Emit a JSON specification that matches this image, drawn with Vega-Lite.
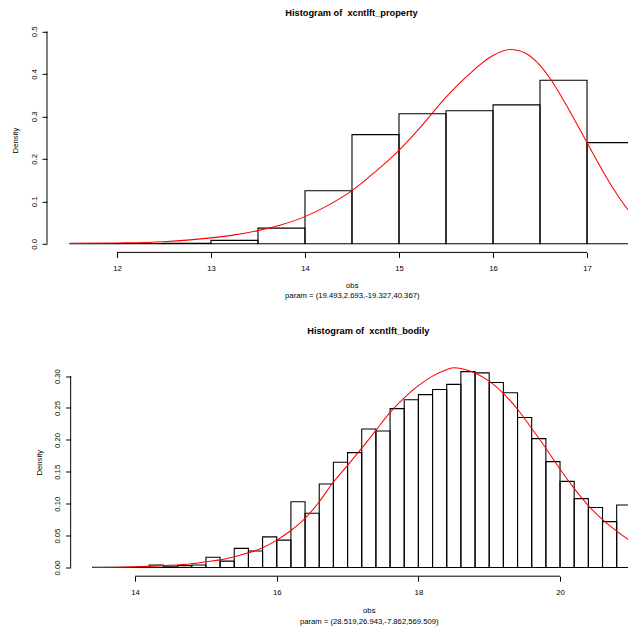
{
  "$schema": "https://vega.github.io/schema/vega-lite/v6.json",
  "background": "white",
  "padding": {"left": 11, "top": 7.8, "right": 0, "bottom": 0},
  "bounds": "flush",
  "spacing": 106.7,
  "config": {
    "view": {"stroke": null},
    "font": "Liberation Sans",
    "axis": {
      "grid": false,
      "domain": false,
      "tickColor": "#000",
      "tickSize": 5,
      "tickWidth": 1,
      "labelColor": "#000",
      "labelFont": "Liberation Sans",
      "labelFontSize": 7.7,
      "labelFlush": false,
      "labelOverlap": false,
      "labelSeparation": 0,
      "titleFont": "Liberation Sans",
      "titleFontSize": 7.7,
      "titleFontWeight": "normal",
      "titleColor": "#000"
    }
  },
  "datasets": {
    "property_bins": [
      {"obs": 11.5, "obs_end": 12.0, "density": 0.0008},
      {"obs": 12.0, "obs_end": 12.5, "density": 0.0008},
      {"obs": 12.5, "obs_end": 13.0, "density": 0.0015},
      {"obs": 13.0, "obs_end": 13.5, "density": 0.008},
      {"obs": 13.5, "obs_end": 14.0, "density": 0.037},
      {"obs": 14.0, "obs_end": 14.5, "density": 0.125},
      {"obs": 14.5, "obs_end": 15.0, "density": 0.257},
      {"obs": 15.0, "obs_end": 15.5, "density": 0.306},
      {"obs": 15.5, "obs_end": 16.0, "density": 0.313},
      {"obs": 16.0, "obs_end": 16.5, "density": 0.327},
      {"obs": 16.5, "obs_end": 17.0, "density": 0.385},
      {"obs": 17.0, "obs_end": 17.5, "density": 0.238}
    ],
    "property_curve": [
      {"obs": 11.5, "density": 0.001},
      {"obs": 12.0, "density": 0.002},
      {"obs": 12.5, "density": 0.005},
      {"obs": 13.0, "density": 0.014},
      {"obs": 13.25, "density": 0.021},
      {"obs": 13.5, "density": 0.031},
      {"obs": 13.75, "density": 0.045},
      {"obs": 14.0, "density": 0.064},
      {"obs": 14.25, "density": 0.091},
      {"obs": 14.5, "density": 0.125},
      {"obs": 14.75, "density": 0.170},
      {"obs": 15.0, "density": 0.220},
      {"obs": 15.25, "density": 0.280},
      {"obs": 15.5, "density": 0.345},
      {"obs": 15.75, "density": 0.400},
      {"obs": 16.0, "density": 0.443},
      {"obs": 16.18, "density": 0.457},
      {"obs": 16.35, "density": 0.448},
      {"obs": 16.5, "density": 0.420},
      {"obs": 16.62, "density": 0.385},
      {"obs": 16.75, "density": 0.338},
      {"obs": 17.0, "density": 0.238},
      {"obs": 17.25, "density": 0.140},
      {"obs": 17.44, "density": 0.079},
      {"obs": 17.5, "density": 0.064}
    ],
    "bodily_bins": [
      {"obs": 13.4, "obs_end": 13.6, "density": 0.0003},
      {"obs": 13.6, "obs_end": 13.8, "density": 0.0003},
      {"obs": 13.8, "obs_end": 14.0, "density": 0.0005},
      {"obs": 14.0, "obs_end": 14.2, "density": 0.0008},
      {"obs": 14.2, "obs_end": 14.4, "density": 0.004},
      {"obs": 14.4, "obs_end": 14.6, "density": 0.002},
      {"obs": 14.6, "obs_end": 14.8, "density": 0.003},
      {"obs": 14.8, "obs_end": 15.0, "density": 0.004},
      {"obs": 15.0, "obs_end": 15.2, "density": 0.016},
      {"obs": 15.2, "obs_end": 15.4, "density": 0.010},
      {"obs": 15.4, "obs_end": 15.6, "density": 0.030},
      {"obs": 15.6, "obs_end": 15.8, "density": 0.026},
      {"obs": 15.8, "obs_end": 16.0, "density": 0.048},
      {"obs": 16.0, "obs_end": 16.2, "density": 0.043},
      {"obs": 16.2, "obs_end": 16.4, "density": 0.103},
      {"obs": 16.4, "obs_end": 16.6, "density": 0.085},
      {"obs": 16.6, "obs_end": 16.8, "density": 0.131},
      {"obs": 16.8, "obs_end": 17.0, "density": 0.165},
      {"obs": 17.0, "obs_end": 17.2, "density": 0.180},
      {"obs": 17.2, "obs_end": 17.4, "density": 0.217},
      {"obs": 17.4, "obs_end": 17.6, "density": 0.214},
      {"obs": 17.6, "obs_end": 17.8, "density": 0.249},
      {"obs": 17.8, "obs_end": 18.0, "density": 0.263},
      {"obs": 18.0, "obs_end": 18.2, "density": 0.271},
      {"obs": 18.2, "obs_end": 18.4, "density": 0.279},
      {"obs": 18.4, "obs_end": 18.6, "density": 0.287},
      {"obs": 18.6, "obs_end": 18.8, "density": 0.307},
      {"obs": 18.8, "obs_end": 19.0, "density": 0.305},
      {"obs": 19.0, "obs_end": 19.2, "density": 0.290},
      {"obs": 19.2, "obs_end": 19.4, "density": 0.274},
      {"obs": 19.4, "obs_end": 19.6, "density": 0.235},
      {"obs": 19.6, "obs_end": 19.8, "density": 0.202},
      {"obs": 19.8, "obs_end": 20.0, "density": 0.166},
      {"obs": 20.0, "obs_end": 20.2, "density": 0.135},
      {"obs": 20.2, "obs_end": 20.4, "density": 0.108},
      {"obs": 20.4, "obs_end": 20.6, "density": 0.094},
      {"obs": 20.6, "obs_end": 20.8, "density": 0.072},
      {"obs": 20.8, "obs_end": 21.0, "density": 0.098}
    ],
    "bodily_curve": [
      {"obs": 13.4, "density": 0.0},
      {"obs": 13.8, "density": 0.0005},
      {"obs": 14.0, "density": 0.001},
      {"obs": 14.4, "density": 0.003},
      {"obs": 14.8, "density": 0.006},
      {"obs": 15.0, "density": 0.009},
      {"obs": 15.2, "density": 0.012},
      {"obs": 15.4, "density": 0.017},
      {"obs": 15.6, "density": 0.023},
      {"obs": 15.8, "density": 0.031},
      {"obs": 16.0, "density": 0.043},
      {"obs": 16.2, "density": 0.058},
      {"obs": 16.4, "density": 0.077},
      {"obs": 16.6, "density": 0.103},
      {"obs": 16.8, "density": 0.134},
      {"obs": 17.0, "density": 0.160},
      {"obs": 17.2, "density": 0.187},
      {"obs": 17.4, "density": 0.215},
      {"obs": 17.6, "density": 0.243},
      {"obs": 17.8, "density": 0.266},
      {"obs": 18.0, "density": 0.285},
      {"obs": 18.2, "density": 0.300},
      {"obs": 18.4, "density": 0.310},
      {"obs": 18.5, "density": 0.313},
      {"obs": 18.6, "density": 0.312},
      {"obs": 18.8, "density": 0.305},
      {"obs": 19.0, "density": 0.292},
      {"obs": 19.2, "density": 0.273},
      {"obs": 19.4, "density": 0.248},
      {"obs": 19.6, "density": 0.218},
      {"obs": 19.8, "density": 0.187},
      {"obs": 20.0, "density": 0.154},
      {"obs": 20.2, "density": 0.124},
      {"obs": 20.4, "density": 0.097},
      {"obs": 20.6, "density": 0.075},
      {"obs": 20.8, "density": 0.057},
      {"obs": 21.0, "density": 0.041}
    ]
  },
  "vconcat": [
    {
      "width": 581.3,
      "height": 229.6,
      "title": {
        "text": "Histogram of \u00a0xcntlft_property",
        "anchor": "middle",
        "frame": "group",
        "dx": 13.9,
        "offset": -2.2,
        "baseline": "alphabetic",
        "font": "Liberation Sans",
        "fontSize": 9.25,
        "fontWeight": "bold",
        "color": "#000"
      },
      "layer": [
        {
          "data": {"name": "property_bins"},
          "mark": {"type": "rect", "fill": "white", "fillOpacity": 0, "stroke": "#000", "strokeWidth": 1.1, "clip": true},
          "encoding": {
            "x": {
              "field": "obs",
              "type": "quantitative",
              "scale": {"domain": [11.256, 17.439], "nice": false, "zero": false},
              "axis": {
                "values": [12, 13, 14, 15, 16, 17],
                "format": "d",
                "labelPadding": 6.8,
                "labelOverlap": false,
                "title": ["obs", "param = (19.493,2.693,-19.327,40.367)"],
                "titleX": 304.8,
                "titleY": 29,
                "titleAlign": "center",
                "titleBaseline": "top",
                "titleLineHeight": 10.2
              }
            },
            "x2": {"field": "obs_end"},
            "y": {
              "field": "density",
              "type": "quantitative",
              "scale": {"domain": [-0.0202, 0.52], "nice": false, "zero": false},
              "axis": {
                "values": [0, 0.1, 0.2, 0.3, 0.4, 0.5],
                "format": ".1f",
                "labelAngle": 270,
                "labelAlign": "center",
                "labelBaseline": "middle",
                "labelPadding": 7.6,
                "labelOverlap": false,
                "title": "Density",
                "titleAngle": 270,
                "titleX": -31.7,
                "titleY": 117.3,
                "titleAlign": "center",
                "titleBaseline": "middle"
              }
            },
            "y2": {"datum": 0}
          }
        },
        {
          "data": {"name": "property_curve"},
          "mark": {"type": "line", "color": "#ff0000", "strokeWidth": 1.05, "clip": true, "interpolate": "monotone"},
          "encoding": {
            "x": {"field": "obs", "type": "quantitative"},
            "y": {"field": "density", "type": "quantitative"}
          }
        },
        {
          "data": {"values": [{}]},
          "mark": {"type": "rule", "color": "#000", "strokeWidth": 1},
          "encoding": {
            "x": {"datum": 12, "type": "quantitative"},
            "x2": {"datum": 17},
            "y": {"datum": -0.0202, "type": "quantitative"}
          }
        },
        {
          "data": {"values": [{}]},
          "mark": {"type": "rule", "color": "#000", "strokeWidth": 1},
          "encoding": {
            "x": {"datum": 11.256, "type": "quantitative"},
            "y": {"datum": 0, "type": "quantitative"},
            "y2": {"datum": 0.5}
          }
        }
      ]
    },
    {
      "width": 581.3,
      "height": 216.7,
      "title": {
        "text": "Histogram of \u00a0xcntlft_bodily",
        "anchor": "middle",
        "frame": "group",
        "dx": 30.65,
        "offset": 16.5,
        "baseline": "alphabetic",
        "font": "Liberation Sans",
        "fontSize": 9.25,
        "fontWeight": "bold",
        "color": "#000"
      },
      "layer": [
        {
          "data": {"name": "bodily_bins"},
          "mark": {"type": "rect", "fill": "white", "fillOpacity": 0, "stroke": "#000", "strokeWidth": 1.1, "clip": true},
          "encoding": {
            "x": {
              "field": "obs",
              "type": "quantitative",
              "scale": {"domain": [12.756, 20.964], "nice": false, "zero": false},
              "axis": {
                "values": [14, 16, 18, 20],
                "format": "d",
                "labelPadding": 7,
                "labelOverlap": false,
                "title": ["obs", "param = (28.519,26.943,-7.862,569.509)"],
                "titleX": 321.8,
                "titleY": 30.8,
                "titleAlign": "center",
                "titleBaseline": "top",
                "titleLineHeight": 10.2
              }
            },
            "x2": {"field": "obs_end"},
            "y": {
              "field": "density",
              "type": "quantitative",
              "scale": {"domain": [-0.0136, 0.326], "nice": false, "zero": false},
              "axis": {
                "values": [0, 0.05, 0.1, 0.15, 0.2, 0.25, 0.3],
                "tickCount": 7,
                "format": ".2f",
                "offset": -23.65,
                "labelAngle": 270,
                "labelAlign": "center",
                "labelBaseline": "middle",
                "labelPadding": 8,
                "labelOverlap": false,
                "labelSeparation": 0,
                "title": "Density",
                "titleAngle": 270,
                "titleX": -31.5,
                "titleY": 102.7,
                "titleAlign": "center",
                "titleBaseline": "middle"
              }
            },
            "y2": {"datum": 0}
          }
        },
        {
          "data": {"name": "bodily_curve"},
          "mark": {"type": "line", "color": "#ff0000", "strokeWidth": 1.05, "clip": true, "interpolate": "monotone"},
          "encoding": {
            "x": {"field": "obs", "type": "quantitative"},
            "y": {"field": "density", "type": "quantitative"}
          }
        },
        {
          "data": {"values": [{}]},
          "mark": {"type": "rule", "color": "#000", "strokeWidth": 1},
          "encoding": {
            "x": {"datum": 14, "type": "quantitative"},
            "x2": {"datum": 20},
            "y": {"datum": -0.0136, "type": "quantitative"}
          }
        },
        {
          "data": {"values": [{}]},
          "mark": {"type": "rule", "color": "#000", "strokeWidth": 1},
          "encoding": {
            "x": {"datum": 13.09, "type": "quantitative"},
            "y": {"datum": 0, "type": "quantitative"},
            "y2": {"datum": 0.3}
          }
        }
      ]
    }
  ]
}
